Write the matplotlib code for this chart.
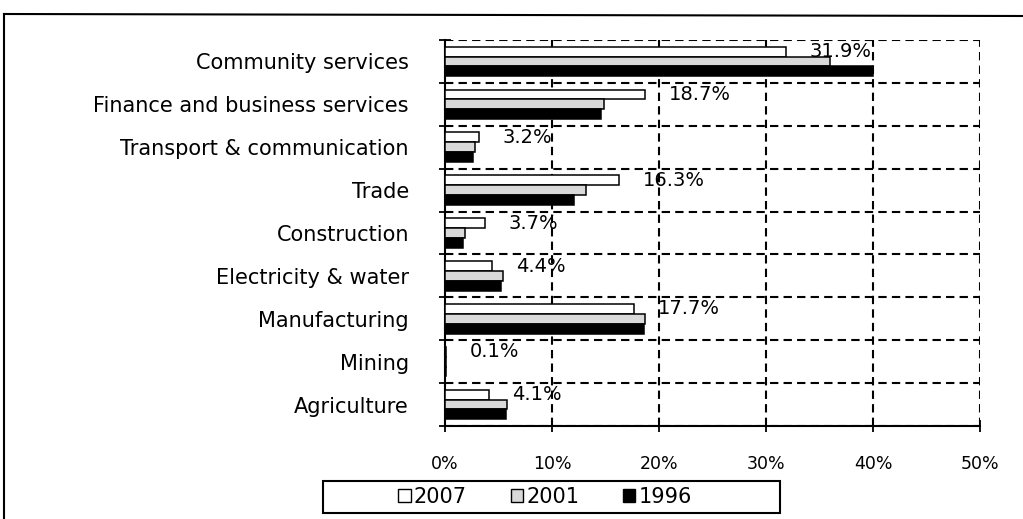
import matplotlib.pyplot as plt
import numpy as np
from matplotlib.lines import Line2D
from matplotlib.patches import Patch, Rectangle

sectors = ["Community services", "Finance and business services",
           "Transport & communication", "Trade", "Construction",
           "Electricity & water", "Manufacturing", "Mining", "Agriculture"]
share_2007 = [31.9, 18.7, 3.2, 16.3, 3.7, 4.4, 17.7, 0.1, 4.1]
share_2001 = [36.0, 14.9, 2.8, 13.2, 1.9, 5.4, 18.7, 0.1, 5.8]
share_1996 = [40.0, 14.6, 2.6, 12.1, 1.7, 5.2, 18.6, 0.1, 5.7]
years = ["2007", "2001", "1996"]
x_ticks = [0, 10, 20, 30, 40, 50]

W, H = 1023, 519
fig = plt.figure(figsize=(W / 100, H / 100), dpi=100)
plt.rcParams['font.family'] = ['DejaVu Sans']

# outer frame (left and top edges only, the rest runs off the page)
fig.add_artist(Line2D([4 / W, 4 / W], [0, 1 - 14 / H], color='black', lw=1.5,
                      transform=fig.transFigure))
fig.add_artist(Line2D([4 / W, 1], [1 - 14 / H, 1 - 16 / H], color='black', lw=1.5,
                      transform=fig.transFigure))

ax = fig.add_axes([445 / W, 1 - 426 / H, (980 - 445) / W, (426 - 40) / H])

y = np.arange(len(sectors))
h = 0.23
styles = [dict(facecolor='white'), dict(facecolor='#d9d9d9'), dict(facecolor='black')]
for k, vals in enumerate([share_2007, share_2001, share_1996]):
    ax.barh(y + (k - 1) * h, vals, height=h, edgecolor='black', linewidth=1.1,
            **styles[k], zorder=3)

for yi, v in zip(y, share_2007):
    ax.annotate(f"{v:.1f}%", (v, yi - h), xytext=(17, 0),
                textcoords='offset points', ha='left', va='center',
                fontsize=14, zorder=4)

ax.set_xlim(0, 50)
ax.set_ylim(len(sectors) - 0.5, -0.5)

ax.set_xticks(x_ticks)
ax.set_xticklabels([f"{t}%" for t in x_ticks], fontsize=12.5)
ax.set_yticks(y)
ax.set_yticklabels(sectors, fontsize=15)
ax.set_yticks(np.arange(-0.5, len(sectors), 1), minor=True)

ax.tick_params(axis='y', which='major', length=0, pad=26)
ax.tick_params(axis='y', which='minor', length=8, width=1.3, direction='inout')
ax.tick_params(axis='x', which='major', length=8, width=1.3, direction='inout', pad=17)

for b in np.arange(-0.5, len(sectors), 1):
    ax.axhline(b, color='black', lw=1.5, ls=(0, (4, 2.5)), zorder=1)
for t in x_ticks[1:]:
    ax.axvline(t, color='black', lw=1.5, ls=(0, (4, 2.5)), zorder=1)

for s in ['top', 'right']:
    ax.spines[s].set_visible(False)
for s in ['left', 'bottom']:
    ax.spines[s].set_linewidth(1.5)

# legend: entries without their own frame, a plain box drawn around them
handles = [Patch(facecolor=st['facecolor'], edgecolor='black', linewidth=1)
           for st in styles]
fig.legend(handles, years, loc='center', ncol=3,
           bbox_to_anchor=(545 / W, 1 - 497 / H), fontsize=15,
           frameon=False, handlelength=0.6, handleheight=0.6, handletextpad=0.15,
           columnspacing=2.1)
fig.add_artist(Rectangle((323 / W, 1 - 513 / H), (780 - 323) / W, 32 / H,
                         transform=fig.transFigure, fill=False,
                         edgecolor='black', linewidth=1.5))

fig.savefig("out.png", dpi=100, facecolor='white')
